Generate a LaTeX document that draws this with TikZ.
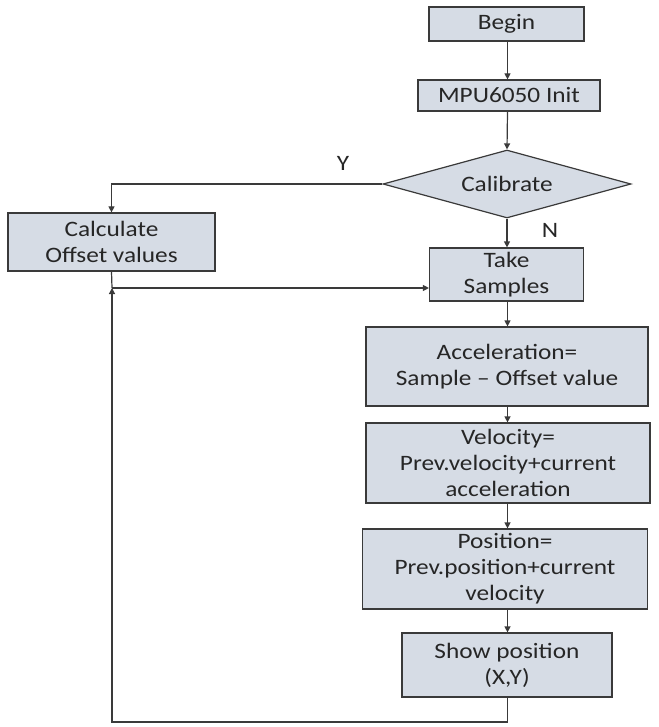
\documentclass[tikz,border=0pt]{standalone}
\usepackage{fontspec}
\setmainfont{Carlito}[FakeStretch=1.15]
\usetikzlibrary{shapes.geometric,arrows.meta}
\definecolor{boxfill}{HTML}{D6DCE5}
\definecolor{boxline}{HTML}{3A3A3A}
\definecolor{txt}{HTML}{262626}
\tikzset{
  every node/.style={font=\fontsize{22}{26}\selectfont, text=txt},
  flowbox/.style={draw=boxline, fill=boxfill, line width=1.2pt, align=center, inner sep=0pt},
  decbox/.style={diamond, draw=boxline, fill=boxfill, line width=1.2pt, inner sep=0pt, aspect=3.6},
  arr/.style={draw=boxline, line width=1.2pt, -{Triangle[length=6pt,width=6pt]}},
  ln/.style={draw=boxline, line width=1.2pt},
  lbl/.style={inner sep=0pt}
}
\begin{document}
\begin{tikzpicture}[x=1pt,y=-1pt]
\useasboundingbox (0,0) rectangle (658,727);
\node[flowbox, minimum width=155pt, minimum height=34pt] (begin) at (506.5,24) {Begin};
\node[flowbox, minimum width=182pt, minimum height=31pt] (init) at (509,95.5) {MPU6050 Init};
\node[decbox, minimum width=248pt, minimum height=68pt] (calib) at (507,184) {Calibrate};
\node[flowbox, minimum width=207pt, minimum height=58pt] (calc) at (111.5,242) {Calculate\\Offset values};
\node[flowbox, minimum width=154pt, minimum height=53pt] (take) at (506.5,274.5) {Take\\Samples};
\node[flowbox, minimum width=282pt, minimum height=79pt] (accel) at (507,366.5) {Acceleration=\\Sample -- Offset value};
\node[flowbox, minimum width=284pt, minimum height=80pt] (vel) at (508,463) {Velocity=\\Prev.velocity+current\\acceleration};
\node[flowbox, minimum width=285pt, minimum height=80pt] (pos) at (505,569) {Position=\\Prev.position+current\\velocity};
\node[flowbox, minimum width=210pt, minimum height=64pt] (show) at (507,665) {Show position\\(X,Y)};
\node[lbl] (ylab) at (343,163) {Y};
\node[lbl] (nlab) at (550,230) {N};
\coordinate (axis) at (507.5,0);
\coordinate (junc) at (112,288);
\coordinate (bl) at (112,722);
\coordinate (corner) at (axis |- bl);
\draw[arr] (begin.south -| axis) -- (init.north -| axis);
\draw[arr] (init.south -| axis) -- (calib.north);
\draw[arr] (calib.south) -- (take.north -| calib.south);
\draw[arr] (take.south -| axis) -- (accel.north -| axis);
\draw[arr] (accel.south -| axis) -- (vel.north -| axis);
\draw[arr] (vel.south -| axis) -- (pos.north -| axis);
\draw[arr] (pos.south -| axis) -- (show.north -| axis);
\draw[arr] (calib.west) -| (calc.north);
\draw[ln] (calc.south) -- (junc);
\draw[arr] (junc) -- (take.west |- junc);
\draw[arr] (show.south -| axis) -- (corner) -- (bl) -- (junc);
\end{tikzpicture}
\end{document}
